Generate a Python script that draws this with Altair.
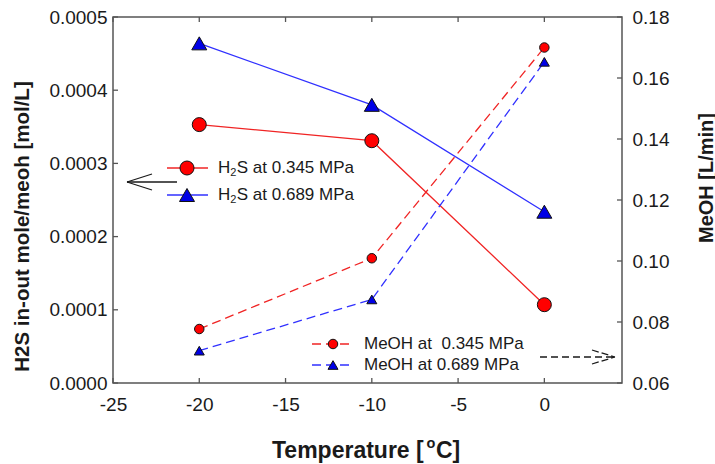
import altair as alt
import pandas as pd

# Temperatures (deg C) at which both pressures were measured
temps = [-20, -10, 0]

# H2S in-out per mole of methanol [mol/L] (left axis)
h2s_0345 = [0.000353, 0.000331, 0.000107]
h2s_0689 = [0.000464, 0.000380, 0.000234]

# Methanol flow [L/min] (right axis)
meoh_0345 = [0.0777, 0.1009, 0.1700]
meoh_0689 = [0.0706, 0.0874, 0.1653]

x_ticks = [-25, -20, -15, -10, -5, 0]
left_ticks = [0.0, 0.0001, 0.0002, 0.0003, 0.0004, 0.0005]
right_ticks = [0.06, 0.08, 0.10, 0.12, 0.14, 0.16, 0.18]

W, H = 509, 366
FONT = "Liberation Sans"
FRAME = "#555555"
TXT = "#1a1a1a"
RED_LINE, RED_FILL = "#f02424", "#ff0000"
BLUE_LINE, BLUE_FILL = "#3030ff", "#0000e6"
TICK = 5
LABEL_SIZE = 19

xs = alt.Scale(domain=[-25, 4.5], nice=False, zero=False)
ly = alt.Scale(domain=[0, 0.0005], nice=False, zero=False)
ry = alt.Scale(domain=[0.06, 0.18], nice=False, zero=False)

# plain hyphen for negative temperatures
x_axis = alt.Axis(values=x_ticks, labelExpr="toString(datum.value)", ticks=False,
                  domain=False, grid=False, labelFlush=False,
                  labelFontSize=LABEL_SIZE, labelPadding=12, labelColor=TXT, labelFont=FONT,
                  title=None)
left_axis = alt.Axis(orient="left", values=left_ticks, format=".4f", ticks=False,
                     domain=False, grid=False, labelFlush=False,
                     labelFontSize=LABEL_SIZE, labelPadding=6, labelColor=TXT, labelFont=FONT,
                     title="H2S in-out mole/meoh [mol/L]", titleFontSize=20.5,
                     titleFontWeight="bold", titleFont=FONT, titleColor=TXT,
                     titleAngle=270, titleX=-91, titleY=209,
                     titleAlign="center", titleBaseline="middle")
right_axis = alt.Axis(orient="right", values=right_ticks, format=".2f", ticks=False,
                      domain=False, grid=False, labelFlush=False,
                      labelFontSize=LABEL_SIZE, labelPadding=10,
                      labelColor=TXT, labelFont=FONT,
                      title="MeOH [L/min]", titleFontSize=20, titleFontWeight="bold",
                      titleFont=FONT, titleColor=TXT, titleAngle=270,
                      titleX=84, titleY=160.5, titleAlign="center", titleBaseline="middle")


def frame(values):
    return pd.DataFrame({"v": values})


one = pd.DataFrame({"a": [0]})


def series(values, yscale, y_ax, line_color, fill, shape, size, dash=None):
    df = pd.DataFrame({"T": temps, "v": values})
    line_kw = dict(color=line_color, strokeWidth=1.3)
    if dash:
        line_kw["strokeDash"] = dash
    enc = dict(x=alt.X("T:Q", scale=xs, axis=x_axis),
               y=alt.Y("v:Q", scale=yscale, axis=y_ax))
    line = alt.Chart(df).mark_line(**line_kw).encode(**enc)
    pts = alt.Chart(df).mark_point(shape=shape, filled=True, fill=fill, stroke="#111111",
                                   strokeWidth=1, size=size, opacity=1).encode(**enc)
    return [line, pts]


def seg(x1, y1, x2, y2, color=TXT, width=1.3, dash=None):
    kw = dict(color=color, strokeWidth=width)
    if dash:
        kw["strokeDash"] = dash
    return alt.Chart(one).mark_rule(**kw).encode(
        x=alt.value(x1), y=alt.value(y1), x2=alt.value(x2), y2=alt.value(y2))


def dot(x, y, fill, shape, size):
    return alt.Chart(one).mark_point(shape=shape, filled=True, fill=fill, stroke="#111111",
                                     strokeWidth=1, size=size, opacity=1).encode(
        x=alt.value(x), y=alt.value(y))


def label(x, y, text, size=17, weight="normal", baseline="middle", align="left"):
    return alt.Chart(one).mark_text(text=text, font=FONT, fontSize=size, fontWeight=weight,
                                    color=TXT, align=align, baseline=baseline).encode(
        x=alt.value(x), y=alt.value(y))


# Frame ticks pointing into the plot
ticks_left = alt.Chart(frame(left_ticks)).mark_rule(color=FRAME, strokeWidth=1.3).encode(
    x=alt.value(0), x2=alt.value(TICK), y=alt.Y("v:Q", scale=ly, axis=left_axis))
ticks_bottom = alt.Chart(frame(x_ticks)).mark_rule(color=FRAME, strokeWidth=1.3).encode(
    x=alt.X("v:Q", scale=xs, axis=x_axis), y=alt.value(H), y2=alt.value(H - TICK))
ticks_top = alt.Chart(frame(x_ticks)).mark_rule(color=FRAME, strokeWidth=1.3).encode(
    x=alt.X("v:Q", scale=xs, axis=x_axis), y=alt.value(0), y2=alt.value(TICK))
ticks_right = alt.Chart(frame(right_ticks)).mark_rule(color=FRAME, strokeWidth=1.3).encode(
    x=alt.value(W), x2=alt.value(W - TICK), y=alt.Y("v:Q", scale=ry, axis=right_axis))

left_layers = (
    series(h2s_0345, ly, left_axis, RED_LINE, RED_FILL, "circle", 196)
    + series(h2s_0689, ly, left_axis, BLUE_LINE, BLUE_FILL, "triangle-up", 225)
    + [ticks_left, ticks_bottom, ticks_top]
)

right_layers = (
    series(meoh_0345, ry, right_axis, RED_LINE, RED_FILL, "circle", 90, dash=[9, 5])
    + series(meoh_0689, ry, right_axis, BLUE_LINE, BLUE_FILL, "triangle-up", 100, dash=[9, 5])
    + [ticks_right]
)

# In-plot key for the H2S series and arrow pointing at the left axis
key_left = [
    seg(54, 151, 95, 151, color=RED_LINE),
    dot(74, 151, RED_FILL, "circle", 196),
    label(105, 151, "H"), label(117.3, 156, "2", size=11), label(123.8, 151, "S at 0.345 MPa"),
    seg(54, 178, 95, 178, color=BLUE_LINE),
    dot(74, 178, BLUE_FILL, "triangle-up", 225),
    label(105, 178, "H"), label(117.3, 183, "2", size=11), label(123.8, 178, "S at 0.689 MPa"),
    seg(14, 165, 64, 165),
    seg(14, 165, 39, 157),
    seg(14, 165, 39, 173),
]

# In-plot key for the methanol series and arrow pointing at the right axis
key_right = [
    seg(199, 327, 237, 327, color=RED_LINE, dash=[9, 5]),
    dot(220, 327, RED_FILL, "circle", 90),
    label(251, 327, "MeOH at\u00a0 0.345 MPa"),
    seg(199, 348, 237, 348, color=BLUE_LINE, dash=[9, 5]),
    dot(220, 348, BLUE_FILL, "triangle-up", 100),
    label(251, 348, "MeOH at 0.689 MPa"),
    seg(427, 340, 500, 340, dash=[7, 4]),
    seg(479, 333, 502, 340, dash=[7, 3]),
    seg(479, 347, 502, 340, dash=[7, 3]),
]

# X-axis title with a superscript degree "o"
x_title = [
    label(159, 441, "Temperature [", size=23, weight="bold", baseline="alphabetic"),
    label(313.5, 431, "o", size=14.5, weight="bold", baseline="alphabetic"),
    label(323, 441, "C]", size=23, weight="bold", baseline="alphabetic"),
]

left = alt.layer(*left_layers, *key_left, *x_title)
right = alt.layer(*right_layers, *key_right)

chart = (
    alt.layer(left, right)
    .resolve_scale(y="independent")
    .properties(width=W, height=H,
                padding={"left": 113, "top": 17, "right": 93, "bottom": 81},
                autosize=alt.AutoSizeParams(type="none"),
                background="white")
    .configure_view(stroke=FRAME, strokeWidth=1.5)
)

chart.save("out.html", embed_options={"renderer": "svg", "actions": False})
